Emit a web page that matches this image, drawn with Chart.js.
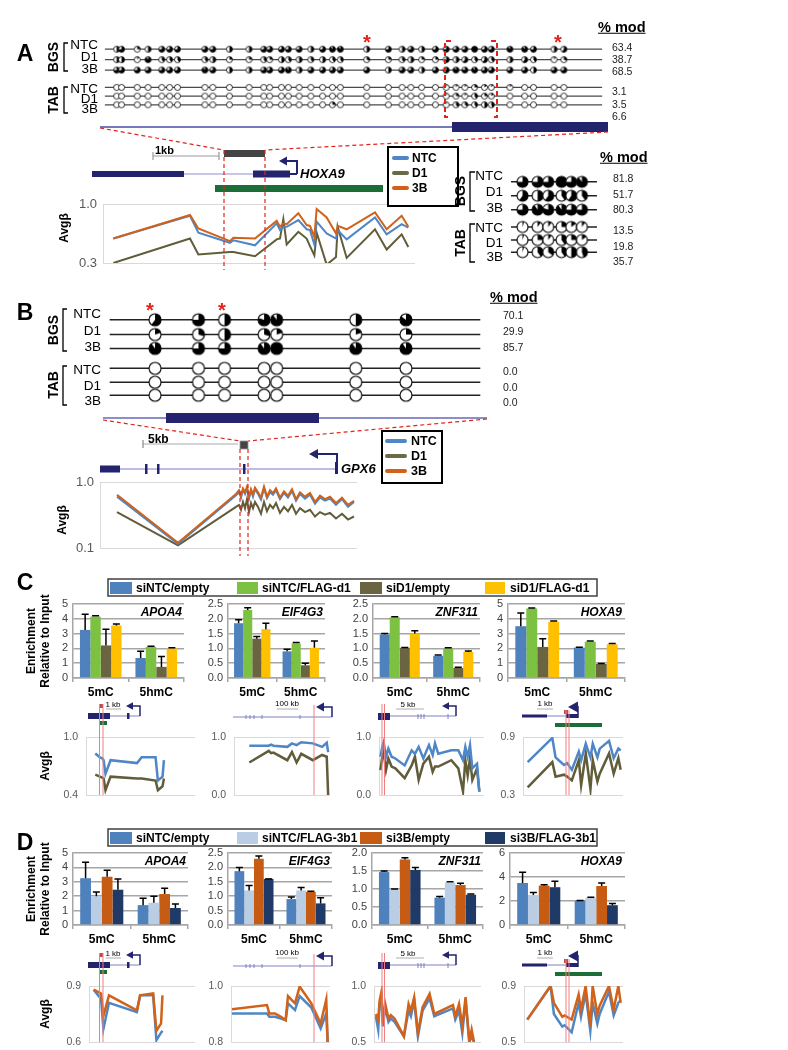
<!DOCTYPE html>
<html><head><meta charset="utf-8">
<script src="https://cdn.jsdelivr.net/npm/chart.js@4.4.1/dist/chart.umd.min.js"></script>
<style>
html,body{margin:0;padding:0;background:#fff;}
#page{position:relative;width:788px;height:1050px;overflow:hidden;font-family:"Liberation Sans",Arial,sans-serif;background:#fff;}
#page canvas{position:absolute;}
.t{position:absolute;white-space:nowrap;line-height:1;color:#000;}
#page svg{position:absolute;left:0;top:0;}
</style></head>
<body><div id="page"></div>
<script>
// ================= DATA =================
const rowLabels = ['NTC','D1','3B'];
// Panel A: HOXA9 CpG positions (relative) and fraction modified per CpG
const cpgPosA = [12,17,33,44,58,66,74,102,110,127,147,162,168,180,187,198,210,222,232,240,267,289,303,312,323,337,348,358,367,377,387,394,413,428,437,458,468];
const bgsNTC_A = [0.5,0.75,0.25,0.5,0.75,0.75,0.75,0.75,0.75,0.5,0.5,0.75,0.75,0.75,0.75,0.75,0.5,0.75,0.9,0.9,0.5,0.75,0.5,0.75,0.5,0.75,0.75,0.75,0.75,1.0,0.75,0.75,0.9,0.9,0.75,0.5,0.6];
const bgsD1_A  = [0.5,0.5,0.1,0.9,0.4,0.4,0.4,0.4,0.5,0.25,0.25,0.4,0.25,0.5,0.4,0.5,0.4,0.5,0.4,0.4,0.3,0.25,0.4,0.5,0.25,0.25,0.6,0.5,0.6,0.4,0.6,0.4,0.5,0.6,0.4,0.1,0.3];
const bgs3B_A  = [0.75,0.75,0.75,0.75,0.75,0.75,0.75,0.9,0.75,0.5,0.5,0.75,0.75,0.75,0.9,0.5,0.75,0.75,0.75,0.75,0.75,0.5,0.75,0.75,0.5,0.75,0.75,0.9,0.8,0.9,0.75,0.75,0.75,0.75,0.5,0.75,0.75];
const tabNTC_A = [0,0,0,0,0,0,0,0,0,0,0,0,0,0,0,0,0,0,0,0,0,0,0,0,0,0,0.05,0.1,0.1,0.25,0.15,0.1,0.1,0,0,0,0];
const tabD1_A  = [0,0,0,0,0,0,0,0,0,0,0,0,0,0,0,0,0,0,0,0,0,0,0,0,0,0,0.05,0.25,0.1,0.4,0.25,0.15,0,0,0,0,0];
const tab3B_A  = [0,0,0,0,0,0,0,0,0,0,0,0,0,0,0,0,0,0,0.25,0,0,0,0,0,0,0,0.05,0.4,0.35,0.4,0.5,0.45,0,0,0,0,0];
const modA = ['63.4','38.7','68.5','3.1','3.5','6.6'];
// Panel A inset (boxed region)
const cpgPosInset = [13,30,42,57,68,80];
const bgsNTC_In = [0.75,0.75,0.75,1.0,0.75,0.9];
const bgsD1_In  = [0.6,0.5,0.6,0.4,0.6,0.4];
const bgs3B_In  = [0.75,0.9,0.8,0.9,0.75,0.75];
const tabNTC_In = [0.05,0.1,0.1,0.25,0.15,0.1];
const tabD1_In  = [0.05,0.25,0.1,0.4,0.25,0.15];
const tab3B_In  = [0.05,0.4,0.35,0.4,0.5,0.45];
const modInset = ['81.8','51.7','80.3','13.5','19.8','35.7'];
// Panel B: GPX6
const cpgPosB = [47,92,119,160,173,255,307];
const bgsNTC_B = [0.6,0.75,0.5,0.8,0.9,0.5,0.85];
const bgsD1_B  = [0.2,0.3,0.5,0.3,0.2,0.2,0.25];
const bgs3B_B  = [0.9,0.75,0.75,0.9,1.0,0.9,0.9];
const tabNTC_B = [0,0,0,0,0,0,0];
const tabD1_B  = [0,0,0,0,0,0,0];
const tab3B_B  = [0,0,0,0,0,0,0];
const modB = ['70.1','29.9','85.7','0.0','0.0','0.0'];

// Avg beta, panel A (HOXA9)
const posA = [160,390,415,510,520,585,650,660,670,680,715,740,750,763,770,800,828,833,860,945,980,1025,1045];
const avgA_3B  = [0.59,0.87,0.71,0.56,0.60,0.59,0.80,0.73,0.77,0.76,0.89,0.75,0.74,0.61,0.94,0.84,0.65,0.74,0.70,0.90,0.70,0.86,0.73];
const avgA_NTC = [0.59,0.86,0.66,0.54,0.57,0.51,0.77,0.69,0.73,0.73,0.81,0.70,0.69,0.52,0.79,0.65,0.59,0.69,0.58,0.84,0.64,0.76,0.72];
const avgA_D1  = [0.30,0.59,0.40,0.43,0.43,0.38,0.58,0.59,0.82,0.52,0.67,0.59,0.50,0.39,0.66,0.28,0.37,0.73,0.36,0.70,0.46,0.64,0.49];
const yTicksA = [0.3,1.0];
// Avg beta, panel B (GPX6)
const posB = [117,178,236,239,241,243,245,247,249,251,253,255,258,261,264,267,270,273,276,280,284,288,292,296,300,305,310,315,320,325,330,336,342,348,354];
const avgB_3B  = [0.64,0.12,0.66,0.75,0.62,0.80,0.70,0.85,0.60,0.78,0.65,0.82,0.70,0.58,0.85,0.60,0.75,0.68,0.80,0.58,0.72,0.62,0.78,0.55,0.70,0.60,0.68,0.50,0.62,0.55,0.60,0.48,0.58,0.45,0.52];
const avgB_NTC = [0.60,0.115,0.63,0.70,0.58,0.76,0.66,0.80,0.56,0.74,0.60,0.78,0.66,0.54,0.80,0.57,0.70,0.64,0.75,0.55,0.68,0.58,0.73,0.52,0.66,0.56,0.64,0.47,0.58,0.52,0.56,0.45,0.55,0.42,0.50];
const avgB_D1  = [0.35,0.11,0.42,0.45,0.38,0.50,0.40,0.55,0.35,0.48,0.40,0.50,0.42,0.33,0.50,0.36,0.45,0.40,0.48,0.34,0.42,0.36,0.45,0.33,0.40,0.35,0.38,0.30,0.35,0.32,0.34,0.28,0.33,0.27,0.30];
const yTicksB = [0.1,1.0];

// Panels C and D: enrichment relative to input (gene x mark: APOA4 5mC,5hmC, EIF4G3 ..., ZNF311 ..., HOXA9 ...)
const genes = ['APOA4','EIF4G3','ZNF311','HOXA9'];
const marks = ['5mC','5hmC'];
const seriesC = ['siNTC/empty','siNTC/FLAG-d1','siD1/empty','siD1/FLAG-d1'];
const c_siNTC_empty  = [3.25,1.35, 1.85,0.90, 1.47,0.75, 3.50,2.05];
const c_siNTC_FLAGd1 = [4.15,2.10, 2.30,1.17, 2.05,1.00, 4.70,2.45];
const c_siD1_empty   = [2.20,0.75, 1.33,0.43, 1.02,0.34, 2.10,0.95];
const c_siD1_FLAGd1  = [3.55,2.00, 1.65,1.02, 1.50,0.88, 3.80,2.28];
const c_err_siNTC_empty  = [1.05,0.45, 0.12,0.07, 0.03,0.03, 0.90,0.03];
const c_err_siNTC_FLAGd1 = [0.05,0.05, 0.07,0.03, 0.02,0.02, 0.03,0.05];
const c_err_siD1_empty   = [1.10,0.70, 0.07,0.07, 0.01,0.02, 0.55,0.03];
const c_err_siD1_FLAGd1  = [0.10,0.05, 0.20,0.23, 0.10,0.03, 0.05,0.05];
const c_yMax = [5,2.5,2.5,5];
const c_yStep = [1,0.5,0.5,1];
const seriesD = ['siNTC/empty','siNTC/FLAG-3b1','si3B/empty','si3B/FLAG-3b1'];
const d_siNTC_empty   = [3.25,1.38, 1.87,0.90, 1.47,0.76, 3.50,2.02];
const d_siNTC_FLAG3b1 = [2.00,1.55, 1.20,1.20, 1.00,1.18, 2.50,2.28];
const d_si3B_empty    = [3.35,2.15, 2.30,1.15, 1.82,1.11, 3.28,3.25];
const d_si3B_FLAG3b1  = [2.45,1.18, 1.60,0.75, 1.53,0.84, 3.15,1.65];
const d_err_siNTC_empty   = [1.10,0.47, 0.13,0.07, 0.03,0.03, 0.90,0.02];
const d_err_siNTC_FLAG3b1 = [0.30,0.45, 0.17,0.10, 0.00,0.02, 0.20,0.04];
const d_err_si3B_empty    = [0.45,0.40, 0.10,0.02, 0.05,0.05, 0.07,0.25];
const d_err_si3B_FLAG3b1  = [0.75,0.27, 0.00,0.20, 0.07,0.02, 0.50,0.15];
const d_yMax = [5,2.5,2.0,6];
const d_yStep = [1,0.5,0.5,2];

// Panel C avg beta (NTC, D1)
const posC_APOA4 = [75,85,90,93,97,108,165,175,205,210,220,223];
const c_APOA4_NTC = [0.83,0.79,0.78,0.76,0.62,0.76,0.73,0.79,0.79,0.55,0.59,0.76];
const c_APOA4_D1  = [0.61,0.59,0.58,0.57,0.45,0.59,0.57,0.57,0.55,0.45,0.49,0.57];
const posC_EIF4G3 = [408,450,455,460,490,500,510,520,545,565,575,578];
const c_EIF4G3_NTC = [0.85,0.85,0.87,0.85,0.83,0.89,0.86,0.91,0.89,0.83,0.90,0.74];
const c_EIF4G3_D1  = [0.56,0.76,0.72,0.73,0.60,0.74,0.56,0.71,0.60,0.69,0.66,0.0];
const posC_ZNF311 = [688,692,695,700,705,712,720,740,755,762,770,780,792,800,805,812,840,855,865,870,875,880,885,895,900];
const c_ZNF311_NTC = [0.66,0.83,0.91,0.66,0.80,0.66,0.63,0.51,0.77,0.71,0.83,0.63,0.86,0.69,0.89,0.71,0.77,0.77,0.60,0.83,0.66,0.86,0.46,0.54,0.06];
const c_ZNF311_D1  = [0.43,0.66,0.74,0.43,0.63,0.49,0.46,0.29,0.51,0.66,0.26,0.54,0.66,0.40,0.49,0.49,0.60,0.46,0.06,0.60,0.34,0.63,0.26,0.46,0.06];
const posC_HOXA9 = [1005,1058,1065,1083,1090,1100,1115,1120,1130,1140,1145,1155,1160,1180,1190,1200,1205];
const c_HOXA9_NTC = [0.64,0.89,0.69,0.61,0.63,0.56,0.75,0.66,0.83,0.69,0.83,0.69,0.78,0.86,0.68,0.78,0.76];
const c_HOXA9_D1  = [0.38,0.64,0.49,0.51,0.49,0.45,0.66,0.40,0.73,0.36,0.66,0.44,0.52,0.73,0.52,0.68,0.56];
const c_avgRange = [[0.4,1.0],[0.0,1.0],[0.0,1.0],[0.3,0.9]];
// Panel D avg beta (NTC, 3B)
const posD_APOA4 = [72,88,93,105,165,172,200,207,217,220];
const d_APOA4_3B  = [0.88,0.86,0.74,0.85,0.77,0.85,0.86,0.66,0.70,0.85];
const d_APOA4_NTC = [0.88,0.83,0.67,0.81,0.76,0.85,0.85,0.61,0.65,0.66];
const posD_EIF4G3 = [370,445,450,462,475,485,490,505,515,540,560,572,575];
const d_EIF4G3_3B  = [0.917,0.932,0.902,0.902,0.89,0.878,0.964,0.938,0.998,0.938,0.866,0.952,0.80];
const d_EIF4G3_NTC = [0.902,0.902,0.89,0.89,0.884,0.878,0.938,0.914,0.964,0.923,0.848,0.902,0.80];
const posD_ZNF311 = [680,685,688,692,695,700,707,712,720,740,750,755,762,770,780,795,805,845,850,858,865,872,880,885,890];
const d_ZNF311_3B  = [0.75,0.70,0.87,0.95,0.67,0.84,0.71,0.74,0.71,0.55,0.84,0.78,0.90,0.58,0.81,0.93,0.75,0.83,0.73,0.84,0.64,0.90,0.50,0.61,0.50];
const d_ZNF311_NTC = [0.73,0.61,0.84,0.90,0.64,0.81,0.68,0.71,0.68,0.55,0.78,0.73,0.87,0.55,0.78,0.89,0.73,0.80,0.70,0.78,0.58,0.87,0.50,0.55,0.50];
const posD_HOXA9 = [1005,1055,1062,1080,1085,1100,1115,1120,1130,1140,1145,1155,1160,1180,1190,1200,1205];
const d_HOXA9_3B  = [0.66,0.90,0.78,0.68,0.69,0.66,0.84,0.73,0.90,0.61,0.90,0.70,0.76,0.90,0.73,0.90,0.78];
const d_HOXA9_NTC = [0.66,0.90,0.70,0.61,0.62,0.57,0.78,0.68,0.85,0.58,0.78,0.63,0.70,0.86,0.69,0.78,0.80];
const d_avgRange = [[0.6,0.9],[0.8,1.0],[0.5,1.0],[0.5,0.9]];

// ================= STYLE / LAYOUT =================
const COL_NTC = '#4f86c6', COL_D1 = '#615c39', COL_3B = '#d0621a';
const C_COLORS = ['#4f81bd','#7cc142','#6b6441','#ffc000'];
const D_COLORS = ['#4f81bd','#b9cde5','#c65b14','#1f3a66'];
const NAVY = '#23236e', RED = '#e3231b', GREEN = '#1b6e38', PINK = '#ef8080';
const page = document.getElementById('page');
Chart.defaults.font.family = '"Liberation Sans", Arial, sans-serif';
Chart.defaults.animation = false;

function mk(l,t,w,h){
  const c=document.createElement('canvas');
  w=Math.round(w); h=Math.round(h);
  c.width=w; c.height=h;
  c.style.left=l+'px'; c.style.top=t+'px'; c.style.width=w+'px'; c.style.height=h+'px';
  page.appendChild(c); return c;
}
function T(s,x,y,o){
  o=o||{};
  const d=document.createElement('div'); d.className='t'; d.textContent=s;
  d.style.fontSize=(o.size||13)+'px';
  if(o.bold) d.style.fontWeight='bold';
  if(o.italic) d.style.fontStyle='italic';
  if(o.underline) d.style.textDecoration='underline';
  if(o.color) d.style.color=o.color;
  d.style.left=x+'px'; d.style.top=y+'px';
  const ax = o.rot ? '-50%' : (o.align==='right'?'-100%':(o.align==='center'?'-50%':'0'));
  d.style.transform='translate('+ax+',-50%)'+(o.rot?' rotate(-90deg)':'');
  page.appendChild(d);
}
function pie(frac,r,lw){
  const c=document.createElement('canvas');
  const s=Math.ceil(2*r+lw+2); c.width=s; c.height=s;
  const g=c.getContext('2d'); const cx=s/2, cy=s/2;
  g.fillStyle='#fff'; g.beginPath(); g.arc(cx,cy,r,0,2*Math.PI); g.fill();
  if(frac>0){
    g.fillStyle='#000'; g.beginPath(); g.moveTo(cx,cy);
    g.arc(cx,cy,r,-Math.PI/2,-Math.PI/2+2*Math.PI*Math.min(frac,1)); g.closePath(); g.fill();
  }
  g.lineWidth=lw; g.strokeStyle='#000'; g.beginPath(); g.arc(cx,cy,r,0,2*Math.PI); g.stroke();
  return c;
}
const baseOpts = {responsive:false, animation:false, devicePixelRatio:1,
  plugins:{legend:{display:false}, tooltip:{enabled:false}}};

function methChart(o){
  const pad=o.r+3;
  const minY=Math.min(...o.rowsY), maxY=Math.max(...o.rowsY);
  const cv=mk(o.x0-pad, minY-pad, o.len+2*pad, maxY-minY+2*pad);
  const ds=[];
  o.rowsY.forEach((ry,k)=>{
    ds.push({data:[{x:0,y:ry},{x:o.len,y:ry}], showLine:true, borderColor:o.lineColor, borderWidth:o.lineW, pointRadius:0, order:2, clip:false});
    ds.push({data:o.pos.map(p=>({x:p,y:ry})), showLine:false, pointStyle:o.fr[k].map(f=>pie(f,o.r,o.cw)), pointRadius:o.r, order:1, clip:false});
  });
  new Chart(cv,{type:'scatter', data:{datasets:ds}, options:Object.assign({}, baseOpts, {
    layout:{padding:0},
    scales:{x:{type:'linear',display:false,min:-pad,max:o.len+pad},
            y:{type:'linear',display:false,min:minY-pad,max:maxY+pad,reverse:true}}})});
}

function lineChart(o){
  const axW=o.axW||30, pad=8;
  const cv=mk(o.pl-axW, o.pt-pad, axW+(o.pr-o.pl)+4, (o.pb-o.pt)+2*pad);
  new Chart(cv,{type:'scatter',
    data:{datasets:o.series.map((s,i)=>({label:s.label, data:s.xs.map((x,j)=>({x:x,y:s.ys[j]})), showLine:true,
      borderColor:s.color, backgroundColor:s.color, borderWidth:o.lw, pointRadius:0, order:i, tension:0}))},
    options:Object.assign({}, baseOpts, {
      layout:{padding:{top:pad,bottom:pad,right:4,left:0}},
      scales:{
        x:{type:'linear',min:o.xmin,max:o.xmax,display:false},
        y:{type:o.log?'logarithmic':'linear', min:o.ymin, max:o.ymax,
           afterBuildTicks:s=>{ s.ticks=o.ticks.map(v=>({value:v})); },
           afterFit:s=>{ s.width=axW; s.paddingTop=0; s.paddingBottom=0; },
           ticks:{autoSkip:false, callback:v=>Number(v).toFixed(1), font:{size:o.fs}, color:'#595959', padding:o.tp||6},
           grid:{color:'#d9d9d9', lineWidth:1, drawTicks:false},
           border:{color:'#d9d9d9'}}
      }})});
}

const errPlugin={id:'errbars', afterDatasetsDraw(chart){
  const ctx=chart.ctx, y=chart.scales.y;
  chart.data.datasets.forEach((ds,i)=>{
    if(!ds.err) return;
    chart.getDatasetMeta(i).data.forEach((el,j)=>{
      const top=y.getPixelForValue(ds.data[j]+ds.err[j]);
      ctx.save(); ctx.strokeStyle='#000'; ctx.lineWidth=1.5;
      ctx.beginPath(); ctx.moveTo(el.x,el.y); ctx.lineTo(el.x,top);
      ctx.moveTo(el.x-3.5,top); ctx.lineTo(el.x+3.5,top); ctx.stroke(); ctx.restore();
    });
  });
}};

function barChart(o){
  const axW=30, padT=8, xH=24;
  const cv=mk(o.pl-axW, o.pt-padT, axW+(o.pr-o.pl)+3, padT+(o.pb-o.pt)+xH);
  const tickVals=[]; for(let v=0; v<=o.max+1e-9; v+=o.step) tickVals.push(Math.round(v*100)/100);
  new Chart(cv,{type:'bar',
    data:{labels:marks, datasets:o.ds.map(d=>({label:d.label, data:d.data, err:d.err, backgroundColor:d.color, borderWidth:0, categoryPercentage:0.75, barPercentage:1}))},
    options:Object.assign({}, baseOpts, {
      layout:{padding:{top:padT,right:3,left:0,bottom:0}},
      scales:{
        x:{grid:{drawOnChartArea:false,tickLength:4,color:'#a6a6a6',lineWidth:1.5},
           border:{color:'#a6a6a6',width:1.5},
           ticks:{font:{size:12,weight:'bold'},color:'#000',padding:3},
           afterFit:s=>{ s.height=xH; s.paddingLeft=0; s.paddingRight=0; }},
        y:{min:0,max:o.max,
           afterBuildTicks:s=>{ s.ticks=tickVals.map(v=>({value:v})); },
           ticks:{autoSkip:false, callback:v=>Number(v).toFixed(o.dec), font:{size:11}, color:'#404040', padding:5},
           grid:{color:'#a6a6a6',lineWidth:1.5,drawTicks:false},
           border:{color:'#a6a6a6',width:1.5},
           afterFit:s=>{ s.width=axW; s.paddingTop=0; s.paddingBottom=0; }}
      }}),
    plugins:[errPlugin]});
}

// ================= PANEL A =================
const rowsA=[45,57,69,89,99,109];
methChart({x0:100, len:507, rowsY:rowsA, pos:cpgPosA, fr:[bgsNTC_A,bgsD1_A,bgs3B_A,tabNTC_A,tabD1_A,tab3B_A], r:3, cw:0.8, lineColor:'#4a4a4a', lineW:1.2});
const rowsIn=[176,192,208,228,243,257];
methChart({x0:505, len:97, rowsY:rowsIn, pos:cpgPosInset, fr:[bgsNTC_In,bgsD1_In,bgs3B_In,tabNTC_In,tabD1_In,tab3B_In], r:5.5, cw:1.1, lineColor:'#222', lineW:1.5});
const ax3 = u => 60 + u/3;
lineChart({pl:ax3(129), pr:ax3(1065), pt:204, pb:263, xmin:129, xmax:1065, ymin:0.3, ymax:1.0, ticks:yTicksA, fs:13, lw:2, axW:34,
  series:[{label:'3B',xs:posA,ys:avgA_3B,color:COL_3B},{label:'NTC',xs:posA,ys:avgA_NTC,color:COL_NTC},{label:'D1',xs:posA,ys:avgA_D1,color:COL_D1}]});

// ================= PANEL B =================
const rowsB=[314,331,347,370,386,401];
methChart({x0:103, len:384, rowsY:rowsB, pos:cpgPosB, fr:[bgsNTC_B,bgsD1_B,bgs3B_B,tabNTC_B,tabD1_B,tab3B_B], r:6, cw:1.1, lineColor:'#222', lineW:1.5});
lineChart({pl:100, pr:357, pt:482, pb:548, xmin:100, xmax:357, ymin:0.1, ymax:1.0, log:true, ticks:yTicksB, fs:13, lw:2, axW:30,
  series:[{label:'3B',xs:posB,ys:avgB_3B,color:COL_3B},{label:'NTC',xs:posB,ys:avgB_NTC,color:COL_NTC},{label:'D1',xs:posB,ys:avgB_D1,color:COL_D1}]});

// ================= PANELS C, D bars =================
const C_BAR_X=[[73,184],[228,325],[373,480],[508,625]], C_BAR_Y=[604,678];
const D_BAR_X=[[73,188],[228,332],[372,483],[510,625]], D_BAR_Y=[853,925];
const cVals=[c_siNTC_empty,c_siNTC_FLAGd1,c_siD1_empty,c_siD1_FLAGd1];
const cErrs=[c_err_siNTC_empty,c_err_siNTC_FLAGd1,c_err_siD1_empty,c_err_siD1_FLAGd1];
const dVals=[d_siNTC_empty,d_siNTC_FLAG3b1,d_si3B_empty,d_si3B_FLAG3b1];
const dErrs=[d_err_siNTC_empty,d_err_siNTC_FLAG3b1,d_err_si3B_empty,d_err_si3B_FLAG3b1];
genes.forEach((g,gi)=>{
  barChart({pl:C_BAR_X[gi][0], pr:C_BAR_X[gi][1], pt:C_BAR_Y[0], pb:C_BAR_Y[1], max:c_yMax[gi], step:c_yStep[gi], dec:c_yStep[gi]<1?1:0,
    ds:seriesC.map((s,k)=>({label:s, data:[cVals[k][2*gi],cVals[k][2*gi+1]], err:[cErrs[k][2*gi],cErrs[k][2*gi+1]], color:C_COLORS[k]}))});
  barChart({pl:D_BAR_X[gi][0], pr:D_BAR_X[gi][1], pt:D_BAR_Y[0], pb:D_BAR_Y[1], max:d_yMax[gi], step:d_yStep[gi], dec:d_yStep[gi]<1?1:0,
    ds:seriesD.map((s,k)=>({label:s, data:[dVals[k][2*gi],dVals[k][2*gi+1]], err:[dErrs[k][2*gi],dErrs[k][2*gi+1]], color:D_COLORS[k]}))});
});

// ================= PANELS C, D avg beta =================
const zx = u => 60 + u/2.15;
const C_LINE_U=[[55,290],[375,582],[685,910],[995,1210]], C_LINE_Y=[737,795];
const D_LINE_U=[[62,290],[368,580],[676,905],[998,1210]], D_LINE_Y=[986,1042];
const cLine=[[posC_APOA4,c_APOA4_NTC,c_APOA4_D1],[posC_EIF4G3,c_EIF4G3_NTC,c_EIF4G3_D1],[posC_ZNF311,c_ZNF311_NTC,c_ZNF311_D1],[posC_HOXA9,c_HOXA9_NTC,c_HOXA9_D1]];
const dLine=[[posD_APOA4,d_APOA4_3B,d_APOA4_NTC],[posD_EIF4G3,d_EIF4G3_3B,d_EIF4G3_NTC],[posD_ZNF311,d_ZNF311_3B,d_ZNF311_NTC],[posD_HOXA9,d_HOXA9_3B,d_HOXA9_NTC]];
genes.forEach((g,gi)=>{
  const cu=C_LINE_U[gi], du=D_LINE_U[gi];
  lineChart({pl:zx(cu[0]), pr:zx(cu[1]), pt:C_LINE_Y[0], pb:C_LINE_Y[1], xmin:cu[0], xmax:cu[1], ymin:c_avgRange[gi][0], ymax:c_avgRange[gi][1], ticks:c_avgRange[gi], fs:10.5, lw:2.5, axW:24, tp:8,
    series:[{label:'NTC',xs:cLine[gi][0],ys:cLine[gi][1],color:COL_NTC},{label:'D1',xs:cLine[gi][0],ys:cLine[gi][2],color:COL_D1}]});
  lineChart({pl:zx(du[0]), pr:zx(du[1]), pt:D_LINE_Y[0], pb:D_LINE_Y[1], xmin:du[0], xmax:du[1], ymin:d_avgRange[gi][0], ymax:d_avgRange[gi][1], ticks:d_avgRange[gi], fs:10.5, lw:2.5, axW:24, tp:8,
    series:[{label:'3B',xs:dLine[gi][0],ys:dLine[gi][1],color:COL_3B},{label:'NTC',xs:dLine[gi][0],ys:dLine[gi][2],color:COL_NTC}]});
});

// ================= ANNOTATION OVERLAY (SVG) =================
let s='';
function L(x1,y1,x2,y2,c,w,dash,cap){ s+=`<line x1="${x1}" y1="${y1}" x2="${x2}" y2="${y2}" stroke="${c}" stroke-width="${w}"${dash?` stroke-dasharray="${dash}"`:''}${cap?` stroke-linecap="${cap}"`:''}/>`; }
function R(x,y,w,h,fill,stroke,sw){ s+=`<rect x="${x}" y="${y}" width="${w}" height="${h}" fill="${fill||'none'}"${stroke?` stroke="${stroke}" stroke-width="${sw||1}"`:''}/>`; }
function P(d,c,w,dash){ s+=`<path d="${d}" fill="none" stroke="${c}" stroke-width="${w}"${dash?` stroke-dasharray="${dash}"`:''}/>`; }
function G(pts,fill){ s+=`<polygon points="${pts}" fill="${fill}"/>`; }
function arrowL(x,yb,yt,xt,sz,c,w){ P(`M${x},${yb} V${yt} H${xt+sz}`,c,w); G(`${xt},${yt} ${xt+sz},${yt-sz*0.55} ${xt+sz},${yt+sz*0.55}`,c); }

// A
P('M68,43 H64 V71 H68','#000',1.3); P('M68,87 H64 V113 H68','#000',1.3);
P('M451,41 H445 V117 H451',RED,2,'5,3'); P('M491,41 H497 V117 H491',RED,2,'5,3');
L(100,127,452,127,'#4b4ba0',1.5); R(452,122,156,10,NAVY);
L(100,128,224,150,RED,1.2,'4,3'); L(608,132,265,150,RED,1.2,'4,3');
R(224,150,41,7,'#444');
L(153,156,219,156,'#999',1.2); L(153,152,153,160,'#999',1.2); L(219,152,219,160,'#999',1.2);
R(92,171,92,6,NAVY); L(184,174,253,174,'#8d8dd0',1.2); R(253,170.5,37,7,NAVY); L(289,174,297,174,NAVY,2);
arrowL(297,174,161,279,8,NAVY,2);
R(215,185,168,7,GREEN);
L(224,150,224,270,RED,1.2,'4,3'); L(265,150,265,270,RED,1.2,'4,3');
R(388,147,70,59,'#fff','#000',2);
L(394,158,407,158,COL_NTC,4,null,'round'); L(394,173,407,173,'#6b6a46',4,null,'round'); L(394,188,407,188,COL_3B,4,null,'round');
P('M475,172 H470 V211 H475','#000',1.3); P('M475,224 H470 V262 H475','#000',1.3);
// B
P('M67,309 H63 V351 H67','#000',1.3); P('M67,366 H63 V405 H67','#000',1.3);
L(103,418,487,418,'#6767b8',1.5); R(166,413,153,10,NAVY);
L(103,420,240,441,RED,1.2,'4,3'); L(487,419,248,441,RED,1.2,'4,3');
R(240,441,8,8,'#444','#999',0.8);
L(143,444,238,444,'#aaa',1.2); L(143,440,143,448,'#888',1.2);
L(100,469,338,469,'#7a7ac4',1.2); R(100,465.5,20,7,NAVY);
R(145,464,2.5,10,NAVY); R(157,464,2.5,10,NAVY); R(243,464,2.5,10,NAVY); R(335,462,3,12,NAVY);
arrowL(337,462,454,309,9,NAVY,2);
L(240,449,240,556,RED,1.2,'4,3'); L(248,449,248,556,RED,1.2,'4,3');
R(382,431,60,52,'#fff','#000',2);
L(387,441,405,441,COL_NTC,4,null,'round'); L(387,456,405,456,'#6b6a46',4,null,'round'); L(387,471,405,471,COL_3B,4,null,'round');
// C legend
R(108,579,489,17,'#fff','#404040',1.5);
R(110,582,22,12,C_COLORS[0]); R(237,582,21,12,C_COLORS[1]); R(360,582,22,12,C_COLORS[2]); R(485,582,20,12,C_COLORS[3]);
// D legend
R(108,829,489,17,'#fff','#404040',1.5);
R(110,832,22,12,D_COLORS[0]); R(237,832,21,12,D_COLORS[1]); R(360,832,22,12,D_COLORS[2]); R(485,832,20,12,D_COLORS[3]);
// gene thumbnails (C at dy=0, D at dy=249)
function genes4(dy, yBot){
  // APOA4
  R(88,713+dy,22,6,NAVY); L(110,716+dy,140,716+dy,'#8080c0',1); R(127,713+dy,2.5,6,NAVY);
  arrowL(140,716+dy,706+dy,126,7,NAVY,1.5);
  L(106,709+dy,121,709+dy,'#999',0.8);
  R(99,704+dy,4,4,'#c04848');
  R(99,721+dy,8,4,GREEN);
  L(99.5,704+dy,99.5,yBot,PINK,1); L(103,704+dy,103,yBot,PINK,1);
  // EIF4G3
  L(233,717+dy,332,717+dy,'#8080c0',1);
  [246,250,254,262,300].forEach(x=>L(x,715+dy,x,719+dy,'#8080c0',1));
  arrowL(332,717+dy,707+dy,316,8,NAVY,1.5);
  L(277,709+dy,298,709+dy,'#999',0.8);
  L(314,705+dy,314,yBot,PINK,1);
  // ZNF311
  R(378,713+dy,12,7,NAVY); L(390,716+dy,456,716+dy,'#8080c0',1);
  [418,421,424,448].forEach(x=>L(x,714+dy,x,719+dy,'#8080c0',1));
  arrowL(456,716+dy,706+dy,442,7,NAVY,1.5);
  L(396,709+dy,424,709+dy,'#999',0.8);
  L(382,704+dy,382,yBot,PINK,1); L(384.5,704+dy,384.5,yBot,PINK,1);
  // HOXA9
  R(522,714.5+dy,25,3,NAVY); L(547,716+dy,566,716+dy,'#8080c0',1);
  R(566,714+dy,12,4,NAVY); L(578,718+dy,578,706+dy,NAVY,1.5);
  G(`568,${707+dy} 578,${701.5+dy} 578,${712.5+dy}`, NAVY);
  R(564,710+dy,4,4,'#c04848');
  L(537,709+dy,553,709+dy,'#999',0.8);
  R(555,723+dy,47,4,GREEN);
  L(566,710+dy,566,yBot,PINK,1); L(569,710+dy,569,yBot,PINK,1);
}
genes4(0,795); genes4(249,1042);
const svg=document.createElementNS('http://www.w3.org/2000/svg','svg');
svg.setAttribute('width','788'); svg.setAttribute('height','1050');
svg.innerHTML=s; page.appendChild(svg);

// ================= TEXT =================
T('A',25,53,{size:23,bold:true,align:'center'});
T('BGS',53,57,{size:14,bold:true,rot:true}); T('TAB',53,100,{size:14,bold:true,rot:true});
rowsA.forEach((y,i)=>T(rowLabels[i%3],98,y,{size:13.5,align:'right'}));
T('% mod',598,27,{size:14.5,bold:true,underline:true});
rowsA.forEach((y,i)=>T(modA[i],612,[47,59,71,91,104,116][i],{size:10.5,color:'#222'}));
T('*',367,42,{size:20,bold:true,color:RED,align:'center'}); T('*',558,42,{size:20,bold:true,color:RED,align:'center'});
T('% mod',600,157,{size:14.5,bold:true,underline:true});
T('BGS',460,191,{size:14,bold:true,rot:true}); T('TAB',460,243,{size:14,bold:true,rot:true});
rowsIn.forEach((y,i)=>T(rowLabels[i%3],503,y,{size:13.5,align:'right'}));
[178,194,209,230,246,261].forEach((y,i)=>T(modInset[i],613,y,{size:10.5,color:'#222'}));
T('HOXA9',300,173,{size:13,bold:true,italic:true});
T('1kb',155,150,{size:11,bold:true});
T('Avgβ',64,228,{size:12,bold:true,rot:true});
T('NTC',412,158,{size:12,bold:true}); T('D1',412,173,{size:12,bold:true}); T('3B',412,188,{size:12,bold:true});
// B
T('B',25,312,{size:23,bold:true,align:'center'});
T('BGS',53,330,{size:14,bold:true,rot:true}); T('TAB',53,385,{size:14,bold:true,rot:true});
rowsB.forEach((y,i)=>T(rowLabels[i%3],101,y,{size:13.5,align:'right'}));
T('% mod',490,297,{size:14.5,bold:true,underline:true});
[315,331,347,371,387,402].forEach((y,i)=>T(modB[i],503,y,{size:10.5,color:'#222'}));
T('*',150,310,{size:20,bold:true,color:RED,align:'center'}); T('*',222,310,{size:20,bold:true,color:RED,align:'center'});
T('5kb',148,439,{size:12,bold:true});
T('GPX6',341,468,{size:13,bold:true,italic:true});
T('Avgβ',62,520,{size:12,bold:true,rot:true});
T('NTC',411,441,{size:12.5,bold:true}); T('D1',411,456,{size:12.5,bold:true}); T('3B',411,471,{size:12.5,bold:true});
// C
T('C',25,582,{size:23,bold:true,align:'center'});
[[136,0],[262,1],[386,2],[510,3]].forEach(([x,k])=>T(seriesC[k],x,588,{size:12,bold:true}));
T('Enrichment',31,641,{size:12,bold:true,rot:true}); T('Relative to Input',45,641,{size:12,bold:true,rot:true});
[182,323,478,622].forEach((x,gi)=>T(genes[gi],x,612,{size:12,bold:true,italic:true,align:'right'}));
T('1 kb',113,705,{size:8,align:'center'}); T('100 kb',287,704,{size:8,align:'center'}); T('5 kb',408,705,{size:8,align:'center'}); T('1 kb',545,704,{size:8,align:'center'});
T('Avgβ',45,766,{size:12,bold:true,rot:true});
// D
T('D',25,842,{size:23,bold:true,align:'center'});
[[136,0],[262,1],[386,2],[510,3]].forEach(([x,k])=>T(seriesD[k],x,838,{size:12,bold:true}));
T('Enrichment',31,889,{size:12,bold:true,rot:true}); T('Relative to Input',45,889,{size:12,bold:true,rot:true});
[186,330,481,622].forEach((x,gi)=>T(genes[gi],x,861,{size:12,bold:true,italic:true,align:'right'}));
T('1 kb',113,954,{size:8,align:'center'}); T('100 kb',287,953,{size:8,align:'center'}); T('5 kb',408,954,{size:8,align:'center'}); T('1 kb',545,953,{size:8,align:'center'});
T('Avgβ',45,1014,{size:12,bold:true,rot:true});
</script></body></html>
